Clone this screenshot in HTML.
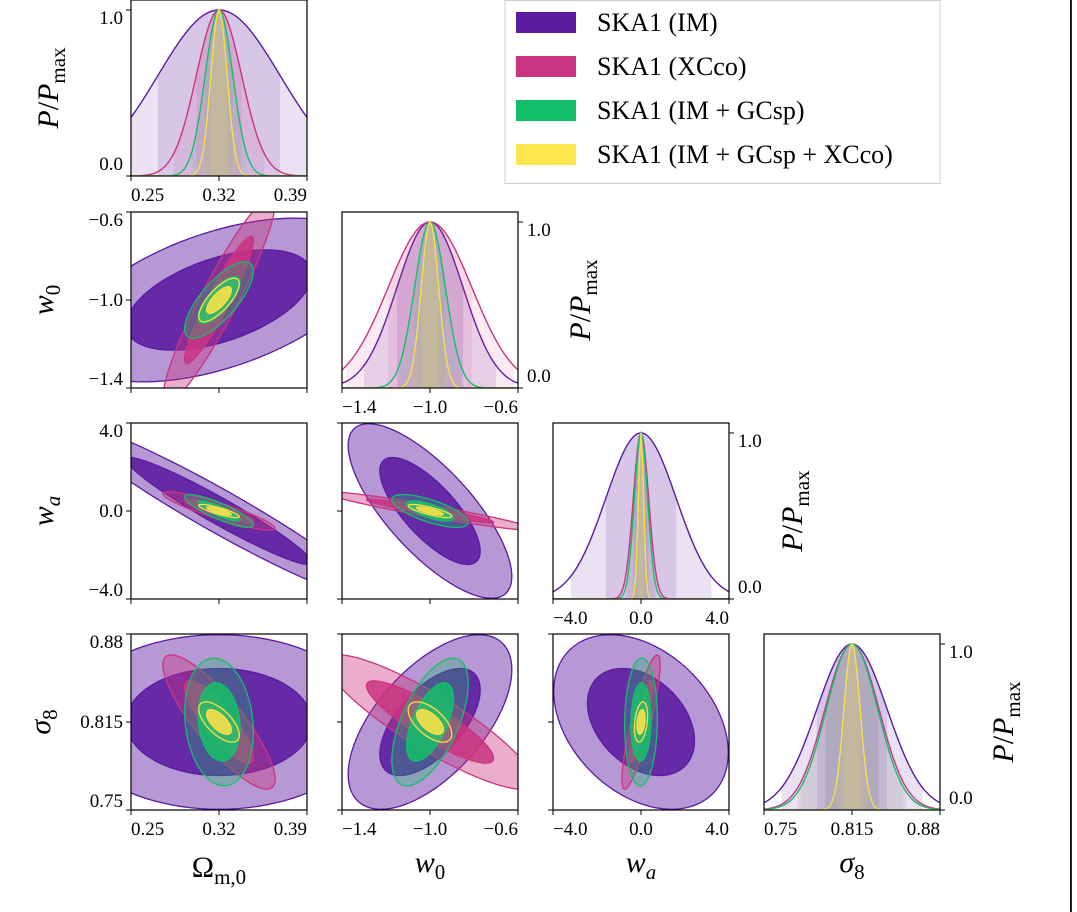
<!DOCTYPE html>
<html><head><meta charset="utf-8"><style>
html,body{margin:0;padding:0;background:#fff;}
svg{display:block;font-family:"Liberation Serif",serif;}
</style></head><body>
<svg id="fig" width="1077" height="912" viewBox="0 0 1077 912" xmlns="http://www.w3.org/2000/svg">
<line x1="1071" y1="0" x2="1071" y2="912" stroke="#222" stroke-width="2"/>
<g id="plots"></g>
<g id="legend">
<rect x="505" y="0.5" width="435" height="183" fill="#fff" stroke="#ccc" stroke-width="1"/>
<g><rect x="516" y="12" width="60" height="21" fill="#5b1aa0"/><text x="597" y="31" font-size="26">SKA1 (IM)</text></g>
<g><rect x="516" y="56" width="60" height="21" fill="#cb3480"/><text x="597" y="75" font-size="26">SKA1 (XCco)</text></g>
<g><rect x="516" y="100" width="60" height="21" fill="#14bf6a"/><text x="597" y="119" font-size="26">SKA1 (IM + GCsp)</text></g>
<g><rect x="516" y="144" width="60" height="21" fill="#fde74c"/><text x="597" y="163" font-size="26">SKA1 (IM + GCsp + XCco)</text></g>
</g>
</svg>
<script>
const paramNames=['Om','w0','wa','s8'];
const centers=[0.32,-1.0,0.0,0.815];
const ranges=[[0.25,0.39],[-1.4,-0.6],[-4,4],[0.75,0.88]];
const tickVals=[[0.25,0.32,0.39],[-1.4,-1.0,-0.6],[-4,0,4],[0.75,0.815,0.88]];
const tickLabels=[['0.25','0.32','0.39'],['\u22121.4','\u22121.0','\u22120.6'],['\u22124.0','0.0','4.0'],['0.75','0.815','0.88']];
const sigIM=[0.0485,0.15,1.6,0.026];
const sigXC=[0.018,0.19,0.35,0.02];
const sigGC=[0.011,0.07,0.3,0.019];
const sigAll=[0.0065,0.04,0.12,0.006];
// correlations for pairs (0,1),(0,2),(0,3),(1,2),(1,3),(2,3)
const rhoIM=[0.5,-0.96,0.0,-0.75,0.6,-0.35];
const rhoXC=[0.93,-0.9,-0.85,-0.95,-0.88,0.85];
const rhoGC=[0.75,-0.85,-0.15,-0.7,0.6,0.05];
const rhoAll=[0.75,-0.85,-0.65,-0.8,-0.6,0.3];

const series=[
 {name:'im',sig:sigIM,rho:rhoIM,col:'#5b1aa0',o2:0.45,o1:0.88,b:0.13},
 {name:'xcco',sig:sigXC,rho:rhoXC,col:'#cb3480',o2:0.4,o1:0.85,b:0.1},
 {name:'gcsp',sig:sigGC,rho:rhoGC,col:'#14bf6a',o2:0.3,o1:0.85,b:0.1},
 {name:'all',sig:sigAll,rho:rhoAll,col:'#f7df4a',o2:0.08,o1:0.9,b:0.15}
];
const colX=[131,342,553,764], rowY=[0,212,423,634], S=176;
const NS='http://www.w3.org/2000/svg';
const root=document.getElementById('plots');
function el(tag,attrs,parent){const e=document.createElementNS(NS,tag);for(const k in attrs)e.setAttribute(k,attrs[k]);(parent||root).appendChild(e);return e;}
function pairIdx(i,j){const m={'0,1':0,'0,2':1,'0,3':2,'1,2':3,'1,3':4,'2,3':5};return m[i+','+j];}
function sx(p,v,col){const r=ranges[p];return colX[col]+(v-r[0])/(r[1]-r[0])*S;}
function sy(p,v,row){const r=ranges[p];return rowY[row]+S-(v-r[0])/(r[1]-r[0])*S;}
const ylim1=1.06;
function py(v,row){return rowY[row]+S-v/ylim1*S;}

let clipN=0;
function panelClip(c,r){const id='clip'+(clipN++);const cp=el('clipPath',{id:id});el('rect',{x:colX[c],y:rowY[r],width:S,height:S},cp);return id;}

for(let r=1;r<4;r++)for(let c=0;c<r;c++){
  const g=el('g',{'clip-path':'url(#'+panelClip(c,r)+')'});
  
  
  const k=pairIdx(c,r);
  series.forEach(s=>{
    const sxv=s.sig[c], syv=s.sig[r], rho=s.rho[k];
    [2.48,1.52].forEach((lev,li)=>{
      let d='';
      for(let t=0;t<=100;t++){const a=t/100*2*Math.PI;
        const vx=centers[c]+lev*sxv*Math.cos(a);
        const vy=centers[r]+lev*syv*(rho*Math.cos(a)+Math.sqrt(1-rho*rho)*Math.sin(a));
        d+=(t?'L':'M')+sx(c,vx,c).toFixed(2)+','+sy(r,vy,r).toFixed(2);}
      const e=el('path',{d:d+'Z',fill:s.col,'fill-opacity':li?s.o1:s.o2,stroke:s.col,'stroke-width':1.3},g);
      
      
    });
  });
}
for(let p=0;p<4;p++){
  const g=el('g',{'clip-path':'url(#'+panelClip(p,p)+')'});
  
  
  series.forEach(s=>{
    const sg=s.sig[p], c0=centers[p];
    function curve(a,b){let d='',N=120;for(let t=0;t<=N;t++){const v=a+(b-a)*t/N;const y=Math.exp(-(v-c0)*(v-c0)/(2*sg*sg));d+=(t?'L':'M')+sx(p,v,p).toFixed(2)+','+py(y,p).toFixed(2);}return d;}
    [2,1].forEach(n=>{
      const a=c0-n*sg,b=c0+n*sg;
      const f=el('path',{d:curve(a,b)+'L'+sx(p,b,p)+','+py(0,p)+'L'+sx(p,a,p)+','+py(0,p)+'Z',fill:s.col,'fill-opacity':s.b},g);
      
      
    });
    const r=ranges[p];
    const ln=el('path',{d:curve(r[0]-0.1*(r[1]-r[0]),r[1]+0.1*(r[1]-r[0])),fill:'none',stroke:s.col,'stroke-width':1.4},g);
    
    
  });
}
for(let r=0;r<4;r++)for(let c=0;c<=r;c++){
  const x0=colX[c],y0=rowY[r];
  const fr=el('rect',{x:x0,y:y0,width:S,height:S,fill:'none',stroke:'#000','stroke-width':1.2});
  
  
  tickVals[c].forEach((v,i)=>{
    const X=sx(c,v,c);el('line',{x1:X,y1:y0+S,x2:X,y2:y0+S+5,stroke:'#000','stroke-width':1});
    if(r===3||r===c){
      const anchor=i===0?'start':(i===2?'end':'middle');
      const t=el('text',{x:X,y:y0+S+25,'font-size':19,'text-anchor':anchor});
      t.textContent=tickLabels[c][i];
      
      
    }
  });
  if(r!==c){
    tickVals[r].forEach((v,i)=>{
      const Y=sy(r,v,r);el('line',{x1:x0,y1:Y,x2:x0-5,y2:Y,stroke:'#000','stroke-width':1});
      if(c===0){
        const dy=i===2?14:(i===0?-3:6);
        const t=el('text',{x:x0-8,y:Y+dy,'font-size':19,'text-anchor':'end'});
        t.textContent=tickLabels[r][i];
        
        
      }
    });
  } else {
    const left=(r===0);
    [[1,'1.0',14],[0,'0.0',-6]].forEach(q=>{
      const Y=py(q[0],r);
      if(left){el('line',{x1:x0,y1:Y,x2:x0-5,y2:Y,stroke:'#000','stroke-width':1});}
      else{el('line',{x1:x0+S,y1:Y,x2:x0+S+5,y2:Y,stroke:'#000','stroke-width':1});}
      const t=el('text',{x:left?x0-8:x0+S+9,y:Y+q[2],'font-size':19,'text-anchor':left?'end':'start'});
      t.textContent=q[1];
      
      
    });
  }
}
function label(html,x,y,rot,name){
  const t=el('text',{x:x,y:y,'font-size':30,'text-anchor':'middle',transform:rot?'rotate(-90 '+x+' '+y+')':''});
  t.innerHTML=html;
  
  
}
const PP='<tspan font-style="italic">P</tspan>/<tspan font-style="italic">P</tspan><tspan font-size="21" dy="7">max</tspan>';
label(PP,58,88,true,'y-axis-title-pdf');
label(PP,590,300,true,'y-axis-title-pdf');
label(PP,802,511,true,'y-axis-title-pdf');
label(PP,1013,722,true,'y-axis-title-pdf');
label('<tspan font-style="italic">w</tspan><tspan font-size="21" dy="7">0</tspan>',53,300,true,'y-axis-title-w0');
label('<tspan font-style="italic">w</tspan><tspan font-size="21" font-style="italic" dy="7">a</tspan>',53,511,true,'y-axis-title-wa');
label('<tspan font-style="italic">σ</tspan><tspan font-size="21" dy="7">8</tspan>',50,722,true,'y-axis-title-sigma8');
label('Ω<tspan font-size="21" dy="7">m,0</tspan>',219,877,false,'x-axis-title-omega');
label('<tspan font-style="italic">w</tspan><tspan font-size="21" dy="7">0</tspan>',430,872,false,'x-axis-title-w0');
label('<tspan font-style="italic">w</tspan><tspan font-size="21" font-style="italic" dy="7">a</tspan>',641,872,false,'x-axis-title-wa');
label('<tspan font-style="italic">σ</tspan><tspan font-size="21" dy="7">8</tspan>',852,872,false,'x-axis-title-sigma8');
</script>
</body></html>
